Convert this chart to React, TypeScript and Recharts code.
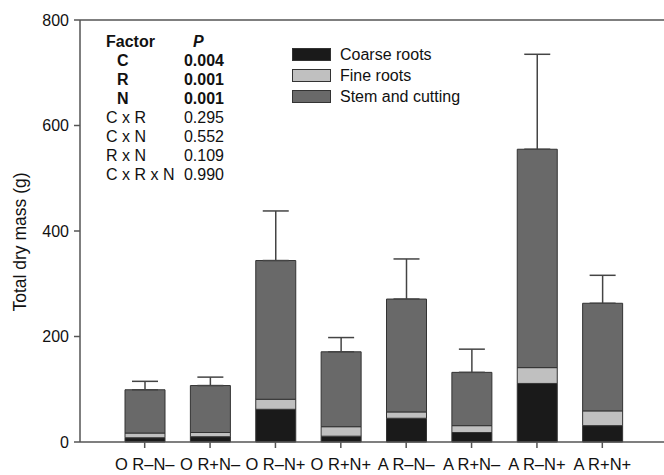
import React from "react";
import {
  BarChart,
  Bar,
  XAxis,
  YAxis,
  ErrorBar,
  Legend,
  ReferenceLine,
} from "recharts";

const categories = ["O R–N–", "O R+N–", "O R–N+", "O R+N+", "A R–N–", "A R+N–", "A R–N+", "A R+N+"];
const coarseRoots = [8, 10, 62, 11, 45, 18, 111, 31];
const fineRoots = [9, 8, 19, 18, 12, 13, 30, 28];
const stemCutting = [82, 89, 263, 142, 214, 101, 414, 204];
const upperError = [16, 16, 94, 27, 76, 44, 180, 53];
const yTicks = [0, 200, 400, 600, 800];

const factors = ["Factor", "C", "R", "N", "C x R", "C x N", "R x N", "C x R x N"];
const pValues = ["P", "0.004", "0.001", "0.001", "0.295", "0.552", "0.109", "0.990"];

const seriesInfo = [
  { key: "coarse", name: "Coarse roots", color: "#1a1a1a" },
  { key: "fine", name: "Fine roots", color: "#c0c0c0" },
  { key: "stem", name: "Stem and cutting", color: "#696969" },
];

const data = categories.map((name, i) => ({
  name,
  coarse: coarseRoots[i],
  fine: fineRoots[i],
  stem: stemCutting[i],
  err: [0, upperError[i]],
}));

const FONT = "'Liberation Sans', Arial, sans-serif";

// legend drawn as swatch boxes with a dark outline
const renderLegend = () => (
  <div style={{ fontFamily: FONT, fontSize: 16, color: "#111", lineHeight: "21px" }}>
    {seriesInfo.map((s) => (
      <div key={s.key} style={{ display: "flex", alignItems: "center", height: 21 }}>
        <span
          style={{
            display: "inline-block",
            width: 37,
            height: 11,
            background: s.color,
            border: "1px solid #333",
            marginRight: 9,
          }}
        />
        {s.name}
      </div>
    ))}
  </div>
);

function StatsTable() {
  return (
    <svg
      width={664}
      height={475}
      style={{ position: "absolute", left: 0, top: 0, pointerEvents: "none" }}
    >
      {factors.map((f, i) => {
        const bold = i < 4;
        const y = 47 + i * 19;
        return (
          <g key={f} fontFamily={FONT} fontSize={16} fill="#111">
            <text x={i >= 1 && i <= 3 ? 117 : 106} y={y} fontWeight={bold ? "bold" : "normal"}>
              {f}
            </text>
            <text
              x={i === 0 ? 193 : 224}
              y={y}
              textAnchor={i === 0 ? "start" : "end"}
              fontWeight={bold ? "bold" : "normal"}
              fontStyle={i === 0 ? "italic" : "normal"}
            >
              {pValues[i]}
            </text>
          </g>
        );
      })}
    </svg>
  );
}

export default function App() {
  return (
    <div style={{ position: "absolute", left: 0, top: 0, width: 664, height: 475, background: "#fff" }}>
      <BarChart
        width={664}
        height={475}
        data={data}
        margin={{ top: 20, right: 0, left: 0, bottom: 0 }}
        barSize={40}
      >
        <XAxis
          dataKey="name"
          height={33}
          padding={{ left: 32, right: 29 }}
          stroke="#555"
          strokeWidth={1.5}
          tickSize={6}
          tickMargin={10}
          tick={{ fill: "#111", fontSize: 16.5, fontFamily: FONT }}
          interval={0}
        />
        <YAxis
          width={80}
          domain={[0, 800]}
          ticks={yTicks}
          stroke="#555"
          strokeWidth={1.5}
          tickSize={6}
          tickMargin={5}
          tick={{ fill: "#111", fontSize: 16, fontFamily: FONT }}
          label={{
            value: "Total dry mass (g)",
            angle: -90,
            position: "insideLeft",
            offset: 20,
            dy: 11,
            style: { fill: "#111", fontSize: 17.5, fontFamily: FONT, textAnchor: "middle" },
          }}
        />
        <ReferenceLine y={800} stroke="#555" strokeWidth={1.5} ifOverflow="extendDomain" />
        <Legend
          layout="horizontal"
          verticalAlign="middle"
          align="center"
          content={renderLegend}
          wrapperStyle={{ position: "absolute", left: 292, top: 44, width: "auto", height: "auto" }}
        />
        {seriesInfo.map((s) => (
          <Bar
            key={s.key}
            dataKey={s.key}
            name={s.name}
            stackId="mass"
            fill={s.color}
            stroke="#333"
            strokeWidth={1}
            isAnimationActive={false}
          >
            {s.key === "stem" && (
              <ErrorBar dataKey="err" direction="y" width={13} stroke="#444" strokeWidth={1.5} />
            )}
          </Bar>
        ))}
      </BarChart>
      <StatsTable />
    </div>
  );
}
